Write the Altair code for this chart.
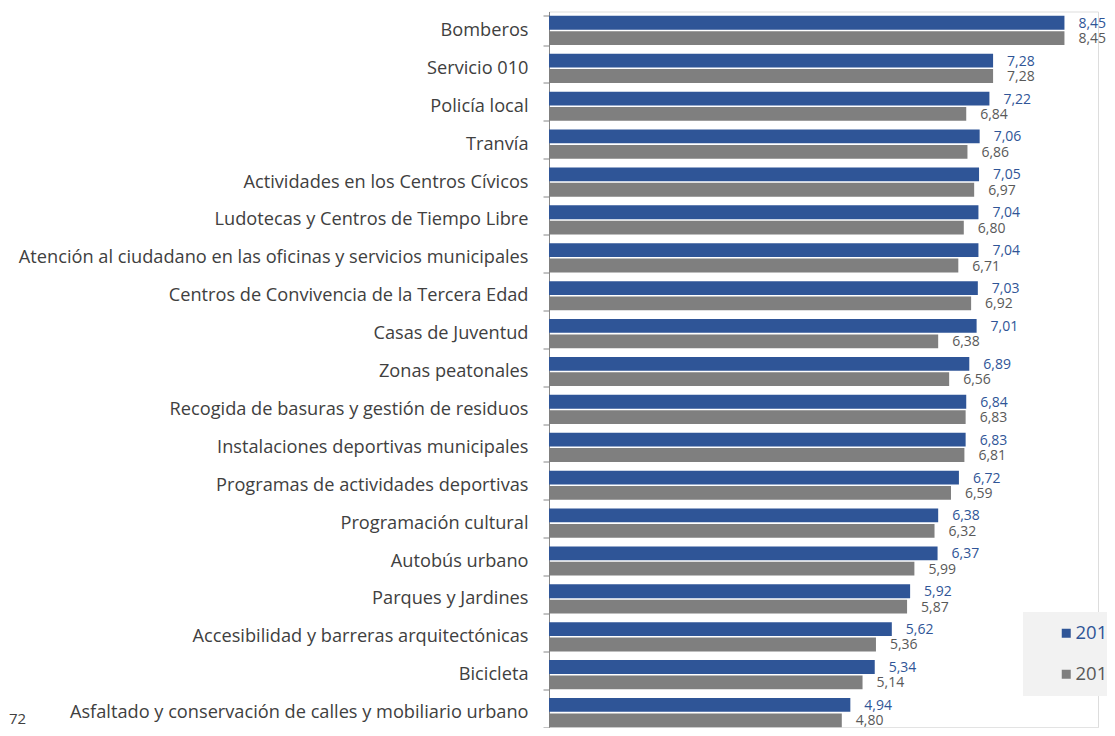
import altair as alt
import pandas as pd

categories = [
    "Bomberos",
    "Servicio 010",
    "Policía local",
    "Tranvía",
    "Actividades en los Centros Cívicos",
    "Ludotecas y Centros de Tiempo Libre",
    "Atención al ciudadano en las oficinas y servicios municipales",
    "Centros de Convivencia de la Tercera Edad",
    "Casas de Juventud",
    "Zonas peatonales",
    "Recogida de basuras y gestión de residuos",
    "Instalaciones deportivas municipales",
    "Programas de actividades deportivas",
    "Programación cultural",
    "Autobús urbano",
    "Parques y Jardines",
    "Accesibilidad y barreras arquitectónicas",
    "Bicicleta",
    "Asfaltado y conservación de calles y mobiliario urbano",
]
series = ["2011", "2010"]
values_2011 = [8.45, 7.28, 7.22, 7.06, 7.05, 7.04, 7.04, 7.03, 7.01, 6.89,
               6.84, 6.83, 6.72, 6.38, 6.37, 5.92, 5.62, 5.34, 4.94]
values_2010 = [8.45, 7.28, 6.84, 6.86, 6.97, 6.80, 6.71, 6.92, 6.38, 6.56,
               6.83, 6.81, 6.59, 6.32, 5.99, 5.87, 5.36, 5.14, 4.80]
page_number = "72"

BLUE = "#2F5597"
GRAY = "#7F7F7F"
BLUE_TXT = "#2F5597"
GRAY_TXT = "#595959"
FONT = "Open Sans"

rows = []
for c, a, b in zip(categories, values_2011, values_2010):
    rows.append({"cat": c, "series": series[0], "value": a,
                 "label": f"{a:.2f}".replace(".", ",")})
    rows.append({"cat": c, "series": series[1], "value": b,
                 "label": f"{b:.2f}".replace(".", ",")})
df = pd.DataFrame(rows)

y_enc = alt.Y(
    "cat:N", sort=categories,
    scale=alt.Scale(paddingInner=0.23, paddingOuter=0.0575, align=1),
    axis=alt.Axis(
        title=None, tickBand="extent", tickSize=6, tickColor="#868686",
        domainColor="#868686", labelFontSize=18.2, labelColor="#404040",
        labelFont=FONT, labelPadding=15, labelLimit=0, grid=False,
    ),
)
x_enc = alt.X("value:Q", scale=alt.Scale(domain=[0, 9], nice=False), axis=None)
yoff = alt.YOffset("series:N", sort=series, scale=alt.Scale(paddingInner=0.1))

base = alt.Chart(df)
bars = base.mark_bar().encode(
    y=y_enc, x=x_enc, yOffset=yoff,
    color=alt.Color(
        "series:N",
        scale=alt.Scale(domain=series, range=[BLUE, GRAY]),
        legend=alt.Legend(
            orient="none", legendX=474, legendY=600.5, title=None,
            fillColor="#F2F2F2", padding=12, symbolType="square",
            symbolSize=81, symbolOffset=22, labelOffset=0,
            labelFontSize=18.5, labelFont=FONT, rowPadding=22,
            symbolStrokeWidth=0, direction="vertical",
            labelColor=alt.ExprRef(
                f"datum.value == '{series[0]}' ? '{BLUE_TXT}' : '{GRAY_TXT}'"
            ),
        ),
    ),
)
labels = base.mark_text(
    align="left", baseline="middle", dx=14, dy=1, fontSize=14, font=FONT
).encode(
    y=y_enc, x=x_enc, yOffset=yoff, text="label:N",
    color=alt.Color("series:N",
                    scale=alt.Scale(domain=series, range=[BLUE_TXT, GRAY_TXT]),
                    legend=None),
)
page = alt.Chart(pd.DataFrame({"t": [page_number]})).mark_text(
    align="left", baseline="alphabetic", fontSize=15, font=FONT, color="#404040"
).encode(x=alt.value(-540), y=alt.value(712), text="t:N")

chart = alt.layer(bars, labels, page).resolve_scale(color="independent").properties(
    width=549, height=715.7,
    padding={"left": 541, "top": 3.5, "right": 9, "bottom": 0.8},
    autosize=alt.AutoSizeParams(type="none"),
).configure_view(stroke=None).configure(font=FONT)

chart.save("out.html", embed_options={"renderer": "svg", "actions": False})
